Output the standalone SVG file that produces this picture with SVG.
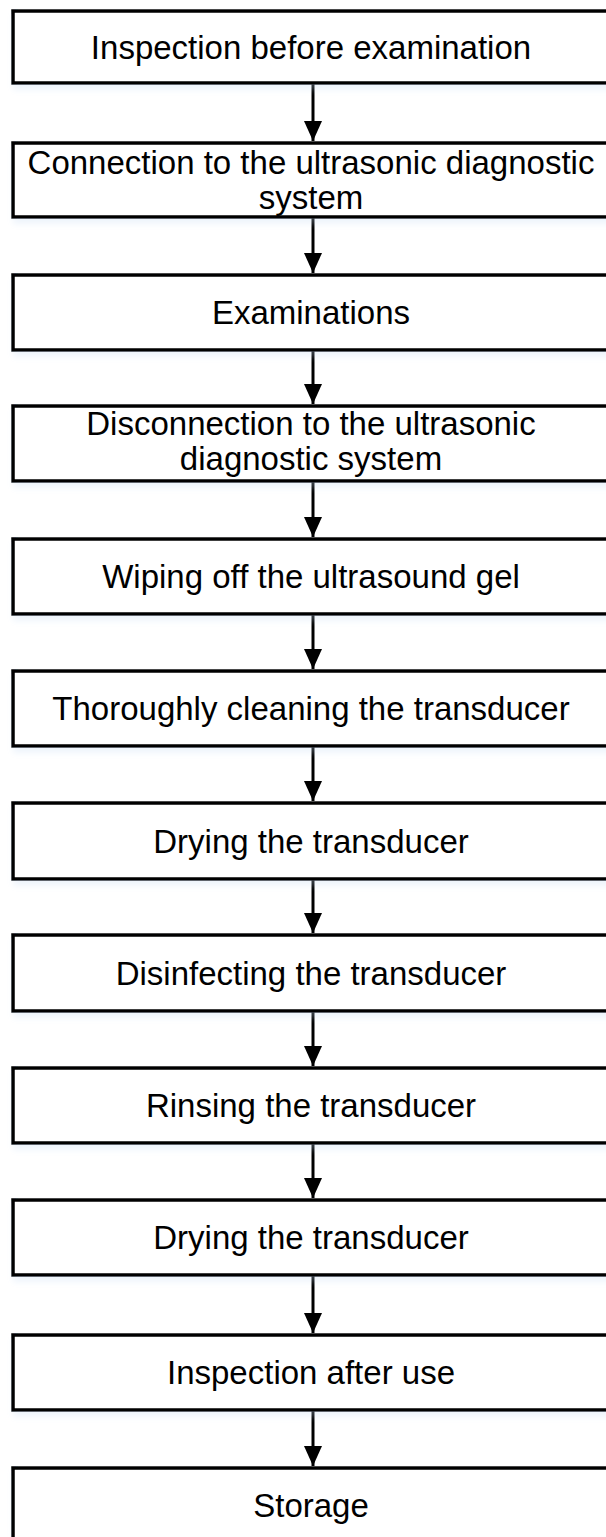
<svg xmlns="http://www.w3.org/2000/svg" width="606" height="1537" viewBox="0 0 606 1537">
<defs>
<style>
.box{fill:#fff;stroke:#000;stroke-width:3.5;filter:url(#sh)}
.t{font-family:"Liberation Sans",Arial,sans-serif;font-size:33px;fill:#000;text-anchor:middle}
.c{stroke:#000;stroke-width:3;fill:none;marker-end:url(#ah)}
</style>
<filter id="sh" x="-10%" y="-20%" width="120%" height="150%">
<feGaussianBlur in="SourceAlpha" stdDeviation="3"/>
<feOffset dx="2" dy="5"/>
<feComponentTransfer><feFuncA type="linear" slope="0.3"/></feComponentTransfer>
<feColorMatrix type="matrix" values="0 0 0 0 0.55 0 0 0 0 0.7 0 0 0 0 0.9 0 0 0 1 0"/>
<feMerge><feMergeNode/><feMergeNode in="SourceGraphic"/></feMerge>
</filter>
<marker id="ah" markerWidth="20" markerHeight="20" refX="20" refY="10" orient="auto" markerUnits="userSpaceOnUse" viewBox="0 0 20 20">
<path d="M0,1 L20,10 L0,19 z" fill="#000"/>
</marker>
</defs>
<g id="connectors">
<line class="c" x1="313" y1="84" x2="313" y2="141"/>
<line class="c" x1="313" y1="217" x2="313" y2="273"/>
<line class="c" x1="313" y1="350" x2="313" y2="404"/>
<line class="c" x1="313" y1="481" x2="313" y2="537"/>
<line class="c" x1="313" y1="614" x2="313" y2="669"/>
<line class="c" x1="313" y1="746" x2="313" y2="801"/>
<line class="c" x1="313" y1="879" x2="313" y2="933"/>
<line class="c" x1="313" y1="1011" x2="313" y2="1066"/>
<line class="c" x1="313" y1="1143" x2="313" y2="1198"/>
<line class="c" x1="313" y1="1275" x2="313" y2="1333"/>
<line class="c" x1="313" y1="1410" x2="313" y2="1466"/>
</g>
<g id="n1"><rect class="box" x="13" y="11" width="600" height="72"/><text class="t" x="311" y="59">Inspection before examination</text></g>
<g id="n2"><rect class="box" x="13" y="143" width="600" height="74"/><text class="t" x="311" y="174">Connection to the ultrasonic diagnostic</text><text class="t" x="311" y="209">system</text></g>
<g id="n3"><rect class="box" x="13" y="275" width="600" height="75"/><text class="t" x="311" y="324">Examinations</text></g>
<g id="n4"><rect class="box" x="13" y="406" width="600" height="75"/><text class="t" x="311" y="435">Disconnection to the ultrasonic</text><text class="t" x="311" y="470">diagnostic system</text></g>
<g id="n5"><rect class="box" x="13" y="539" width="600" height="75"/><text class="t" x="311" y="588">Wiping off the ultrasound gel</text></g>
<g id="n6"><rect class="box" x="13" y="671" width="600" height="75"/><text class="t" x="311" y="720">Thoroughly cleaning the transducer</text></g>
<g id="n7"><rect class="box" x="13" y="803" width="600" height="76"/><text class="t" x="311" y="853">Drying the transducer</text></g>
<g id="n8"><rect class="box" x="13" y="935" width="600" height="76"/><text class="t" x="311" y="985">Disinfecting the transducer</text></g>
<g id="n9"><rect class="box" x="13" y="1068" width="600" height="75"/><text class="t" x="311" y="1117">Rinsing the transducer</text></g>
<g id="n10"><rect class="box" x="13" y="1200" width="600" height="75"/><text class="t" x="311" y="1249">Drying the transducer</text></g>
<g id="n11"><rect class="box" x="13" y="1335" width="600" height="75"/><text class="t" x="311" y="1384">Inspection after use</text></g>
<g id="n12"><rect class="box" x="13" y="1468" width="600" height="80"/><text class="t" x="311" y="1517">Storage</text></g>
</svg>
